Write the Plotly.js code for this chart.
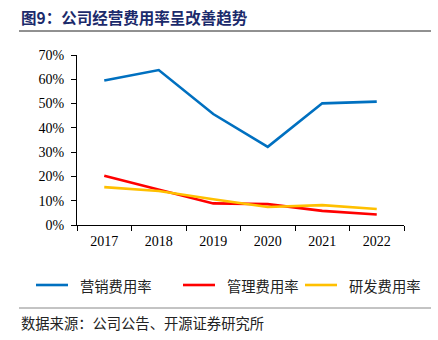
<!DOCTYPE html>
<html>
<head>
<meta charset="utf-8">
<script src="https://cdn.plot.ly/plotly-3.0.1.min.js"></script>
<style>
html,body{margin:0;padding:0;background:#fff;}
#chart{width:438px;height:340px;}
</style>
</head>
<body>
<div id="chart"></div>
<script>
const years = ['2017','2018','2019','2020','2021','2022'];
const salesRate = [0.595, 0.638, 0.457, 0.322, 0.501, 0.508];
const adminRate = [0.203, 0.147, 0.089, 0.086, 0.058, 0.043];
const rdRate = [0.156, 0.140, 0.106, 0.074, 0.082, 0.066];
const seriesNames = ['营销费用率', '管理费用率', '研发费用率'];
const seriesColors = ['#0070C0', '#FF0000', '#FFC000'];
const yTicks = [0, 0.1, 0.2, 0.3, 0.4, 0.5, 0.6, 0.7];
const yTickLabels = ['0%', '10%', '20%', '30%', '40%', '50%', '60%', '70%'];
const titleText = '图9：公司经营费用率呈改善趋势';
const sourceText = '数据来源：公司公告、开源证券研究所';

const cjk = '"Noto Sans CJK SC", sans-serif';
const serif = '"Liberation Serif", "Times New Roman", serif';

const series = [salesRate, adminRate, rdRate];
const traces = series.map((vals, i) => ({
  x: years, y: vals, type: 'scatter', mode: 'lines',
  name: seriesNames[i],
  line: {color: seriesColors[i], width: 2.6},
  showlegend: false, hoverinfo: 'skip'
}));

// manual legend
const legendX = [36, 183, 305];
const legendY = 285;
const shapes = [
  {type:'line', xref:'paper', yref:'paper', x0:-58/327, x1:354/327, y0:(340-31-115)/170, y1:(340-31-115)/170, line:{color:'#222', width:1}},
  {type:'line', xref:'paper', yref:'paper', x0:-58/327, x1:354/327, y0:(340-308-115)/170, y1:(340-308-115)/170, line:{color:'#888', width:1}}
];
const annotations = [
  {text:'<b>'+titleText+'</b>', xref:'paper', yref:'paper', x:-58/327, y:(340-17-115)/170, xanchor:'left', yanchor:'middle', showarrow:false, font:{family:cjk, size:15.5, color:'#1B2A6B'}},
  {text:sourceText, xref:'paper', yref:'paper', x:-58/327, y:(340-322-115)/170, xanchor:'left', yanchor:'middle', showarrow:false, font:{family:cjk, size:14.3, color:'#222'}}
];
seriesNames.forEach((n, i) => {
  const px = legendX[i] - 77;
  shapes.push({type:'line', xref:'paper', yref:'paper', x0:px/327, x1:(px+32)/327, y0:(340-legendY-115)/170, y1:(340-legendY-115)/170, line:{color:seriesColors[i], width:2.6}});
  annotations.push({text:n, xref:'paper', yref:'paper', x:(px+42)/327, y:(340-legendY-115)/170, xanchor:'left', yanchor:'middle', showarrow:false, font:{family:cjk, size:14.3, color:'#222'}});
});

const layout = {
  width: 438, height: 340,
  margin: {l:77, r:34, t:55, b:115},
  paper_bgcolor:'#fff', plot_bgcolor:'#fff',
  showlegend:false,
  xaxis: {
    type:'category', range:[-0.5, 5.5], showgrid:false, zeroline:false,
    showline:true, linecolor:'#000', linewidth:1,
    ticks:'outside', ticklen:5, tickcolor:'#000', tickson:'boundaries',
    ticklabelstandoff:3,
    tickfont:{family:serif, size:14, color:'#000'}
  },
  yaxis: {
    range:[0, 0.7], tickvals:yTicks, ticktext:yTickLabels, showgrid:false, zeroline:false,
    showline:true, linecolor:'#000', linewidth:1,
    ticks:'outside', ticklen:5, tickcolor:'#000',
    ticklabelstandoff:4,
    tickfont:{family:serif, size:14, color:'#000'}
  },
  shapes, annotations
};
Plotly.newPlot('chart', traces, layout, {staticPlot:true, displayModeBar:false});
</script>
</body>
</html>
